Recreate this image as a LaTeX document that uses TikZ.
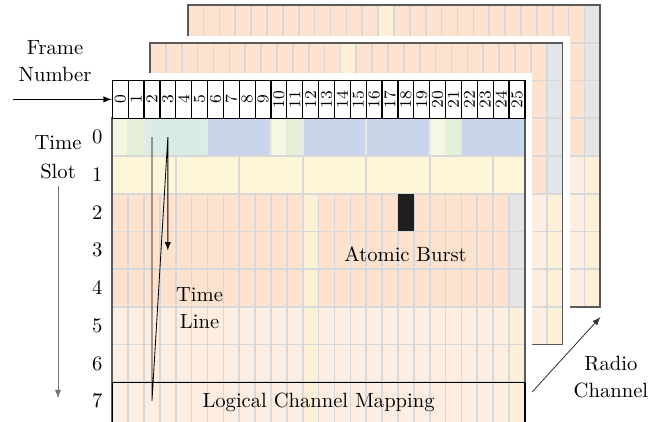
\documentclass[tikz,border=0pt]{standalone}
\usepackage{tikz}
\usetikzlibrary{arrows, calc, positioning}
\definecolor{peach}{HTML}{FDE2CF}
\definecolor{peachLight}{HTML}{FEEEE1}
\definecolor{cream}{HTML}{FEF6D8}
\definecolor{creamDeep}{HTML}{FEF0D6}
\definecolor{creamLight}{HTML}{FEEFD8}
\definecolor{idleGrey}{HTML}{E4E5E7}
\definecolor{bcchBlue}{HTML}{C9D5EB}
\definecolor{tchTeal}{HTML}{D9EDE4}
\definecolor{fcchGreen}{HTML}{E3EFD6}
\definecolor{schLime}{HTML}{F4F7E2}
\definecolor{gridGrey}{HTML}{D8D8D8}
\newcommand{\colW}{7.7pt}
\newcommand{\rowH}{18.3pt}
\tikzset{
    gridLine/.style={draw=gridGrey, line width=0.8pt},
    frameBorder/.style={draw=black!65, line width=0.8pt},
    hdrCell/.style={rectangle, draw=black, fill=white, line width=0.6pt, inner sep=0pt, minimum width=\colW, minimum height=\rowH, font=\footnotesize},
    slotNum/.style={font=\normalsize},
    timeArrow/.style={->, >=latex, thin},
    axisArrow/.style={->, >=latex, thin, black!55},
}
% one of the radio channels lying behind the front one
\newcommand{\drawBackGrid}[2]{
    \begin{scope}[shift={(#1,#2)}]
        \fill[white] (-0.45,-0.19) rectangle (26.45,8.19);
        \fill[peach] (0,0) rectangle (26,4);
        \fill[peachLight] (0,4) rectangle (26,8);
        \fill[creamDeep] (12,0) rectangle (13,8);
        \fill[idleGrey] (25,0) rectangle (26,4);
        \fill[creamLight] (25,4) rectangle (26,8);
        \foreach \c in {1,...,25} \draw[gridLine] (\c,0) -- (\c,8);
        \foreach \r in {1,...,7} \draw[gridLine] (0,\r) -- (26,\r);
        \draw[frameBorder] (0,0) rectangle (26,8);
    \end{scope}
}

\begin{document}
\begin{tikzpicture}[x=\colW, y=-\rowH]

        \clip (-7.076,-2.135) rectangle (34.89,9.03);

        \drawBackGrid{4.75}{-2}
        \drawBackGrid{2.375}{-1}

        % front channel
        \fill[white] (-0.45,-0.19) rectangle (26.45,9.5);
        \fill[bcchBlue] (0,1) rectangle (26,2);
        \fill[tchTeal] (2,1) rectangle (6,2);
        \foreach \c in {0,10,20} \fill[schLime] (\c,1) rectangle ++(1,1);
        \foreach \c in {1,11,21} \fill[fcchGreen] (\c,1) rectangle ++(1,1);
        \fill[cream] (0,2) rectangle (26,3);
        \fill[peach] (0,3) rectangle (26,6);
        \fill[peachLight] (0,6) rectangle (26,9.5);
        \fill[creamDeep] (12,3) rectangle (13,6);
        \fill[creamLight] (12,6) rectangle (13,9.5);
        \fill[idleGrey] (25,3) rectangle (26,6);
        \fill[creamLight] (25,6) rectangle (26,9.5);

        \foreach \c in {1,2,6,10,11,12,16,20,21,22} \draw[gridLine, draw=gridGrey!60] (\c,1) -- (\c,2);
        \foreach \c in {4,8,...,24} \draw[gridLine] (\c,2) -- (\c,3);
        \foreach \c in {1,...,25} \draw[gridLine] (\c,3) -- (\c,9.5);
        \foreach \r in {2,...,8} \draw[gridLine] (0,\r) -- (26,\r);
        \draw[frameBorder] (0,1) rectangle (26,9.5);

        \fill[black!88] (18,3) rectangle (19,4);
        \draw[black, line width=0.7pt] (0,8) rectangle (26,9.5);

        \foreach \c in {0,...,25}
            \node[hdrCell] (fn\c) at (\c+0.5,0.5) {\rotatebox{90}{\c}};

        \foreach \r in {0,...,7}
            \node[slotNum] (ts\r) at (-0.95,\r+1.5) {\r};

        % labels
        \node[align=center] (fnLabel) at (-3.61,-0.52) {Frame\\[1pt]Number};
        \node[align=center] (tsLabel) at (-3.42,2.04) {Time\\[2pt]Slot};
        \node[align=center] (tlLabel) at (5.5,6.03) {Time\\[1pt]Line};
        \node (abLabel) at (18.48,4.6) {Atomic Burst};
        \node (lcmLabel) at (13,8.53) {Logical Channel Mapping};
        \node[align=center] (rcLabel) at (31.42,7.87) {Radio\\[1pt]Channel};

        \coordinate (fnTail) at (-6.26,0.5);
        \coordinate (tsHead) at (-3.42,8.42);
        \coordinate (rcTail) at (26.45,8.26);
        \coordinate (rcHead) at (30.76,6.27);
        \coordinate (tlTop) at (2.5,1.5);
        \coordinate (tlBottom) at (2.5,8.5);
        \coordinate (tlNext) at (3.5,1.5);
        \coordinate (tlHead) at (3.5,4.5);

        \draw[timeArrow] (fnTail) -- (fn0.west);
        \draw[axisArrow] (tsLabel.south) -- (tsHead);
        \draw[timeArrow, black!80] (rcTail) -- (rcHead);
        \draw[timeArrow] (tlTop) -- (tlBottom) -- (tlNext) -- (tlHead);

    \end{tikzpicture}
\end{document}
